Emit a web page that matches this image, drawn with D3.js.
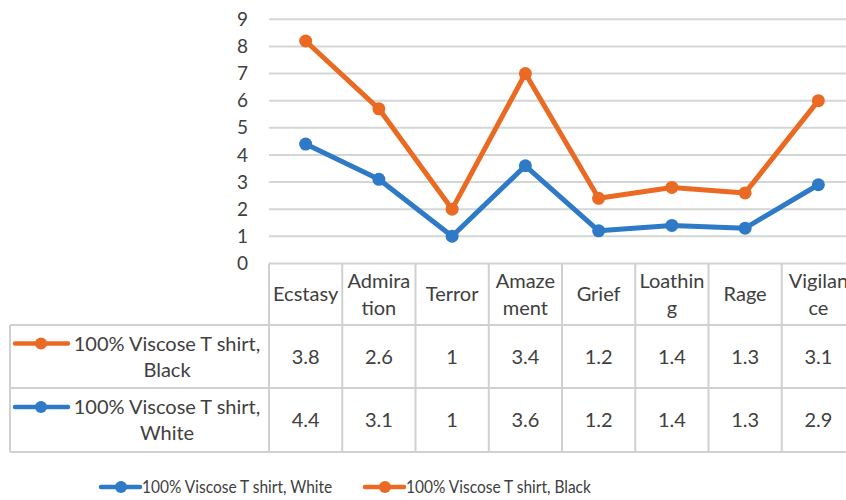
<!DOCTYPE html>
<html>
<head>
<meta charset="utf-8">
<script src="https://cdn.jsdelivr.net/npm/d3@7"></script>
<style>
  html, body { margin: 0; padding: 0; background: #fff; }
  svg { display: block; font-family: Lato, "Open Sans", sans-serif; }
</style>
</head>
<body>
<svg id="chart" width="846" height="500"></svg>
<script>
// Emotion categories and the two-line wrapped labels used in the data table
const categories = ["Ecstasy", "Admiration", "Terror", "Amazement", "Grief", "Loathing", "Rage", "Vigilance"];
const headerLines = [["Ecstasy"], ["Admira", "tion"], ["Terror"], ["Amaze", "ment"], ["Grief"], ["Loathin", "g"], ["Rage"], ["Vigilan", "ce"]];

// Scores per garment (stacked: black sits on top of white)
const whiteValues = [4.4, 3.1, 1, 3.6, 1.2, 1.4, 1.3, 2.9];
const blackValues = [3.8, 2.6, 1, 3.4, 1.2, 1.4, 1.3, 3.1];

const seriesNames = ["100% Viscose T shirt, White", "100% Viscose T shirt, Black"];
const yTicks = [0, 1, 2, 3, 4, 5, 6, 7, 8, 9];

const colors = { white: "#2f7ac6", black: "#ea6a24" };
const textColor = "#404040";
const gridColor = "#d4d6d6";

const svg = d3.select("#chart");

const plotLeft = 269, plotRight = 855;
const yTop = 19.3, yZero = 263.4;
const tableLeft = 10;
const row1Bottom = 325, row2Bottom = 388, row3Bottom = 452;
const tableFont = 20;

const x = d3.scaleBand().domain(categories).range([plotLeft, plotRight]);
const y = d3.scaleLinear().domain([0, 9]).range([yZero, yTop]);

// Stack the two series
const rows = categories.map((c, i) => ({ cat: c, white: whiteValues[i], black: blackValues[i] }));
const stacked = d3.stack().keys(["white", "black"])(rows);

// Horizontal gridlines
svg.append("g").selectAll("line")
  .data(yTicks.filter(t => t > 0))
  .join("line")
  .attr("x1", plotLeft).attr("x2", plotRight)
  .attr("y1", d => y(d)).attr("y2", d => y(d))
  .attr("stroke", gridColor).attr("stroke-width", 2);

// Y axis labels
const yAxis = d3.axisLeft(y).tickValues(yTicks).tickSize(0).tickPadding(0).tickFormat(d3.format("d"));
const yg = svg.append("g").attr("transform", "translate(248,0)").call(yAxis);
yg.select(".domain").remove();
yg.selectAll("text").attr("fill", textColor).attr("font-size", 19).attr("font-family", "Lato, 'Open Sans', sans-serif");

// Data table grid
const tg = svg.append("g").attr("stroke", "#cfd1d1").attr("stroke-width", 2).attr("fill", "none");
tg.append("line").attr("x1", plotLeft).attr("x2", plotRight).attr("y1", yZero).attr("y2", yZero);
[row1Bottom, row2Bottom, row3Bottom].forEach(yy => {
  tg.append("line").attr("x1", tableLeft).attr("x2", plotRight).attr("y1", yy).attr("y2", yy);
});
tg.append("line").attr("x1", tableLeft).attr("x2", tableLeft).attr("y1", row1Bottom).attr("y2", row3Bottom);
categories.forEach(c => {
  tg.append("line").attr("x1", x(c)).attr("x2", x(c)).attr("y1", yZero).attr("y2", row3Bottom);
});

// Category headers
const headG = svg.append("g").attr("fill", textColor).attr("font-size", tableFont).attr("text-anchor", "middle");
categories.forEach((c, i) => {
  const lines = headerLines[i];
  const cx = x(c) + x.bandwidth() / 2;
  const mid = (yZero + row1Bottom) / 2;
  const lh = 27;
  lines.forEach((ln, j) => {
    headG.append("text")
      .attr("x", cx)
      .attr("y", mid + (j - (lines.length - 1) / 2) * lh)
      .attr("dy", "0.35em")
      .text(ln);
  });
});

// Table values and series key cells
const tableRows = [
  { key: "black", name: seriesNames[1], values: blackValues, top: row1Bottom, bottom: row2Bottom },
  { key: "white", name: seriesNames[0], values: whiteValues, top: row2Bottom, bottom: row3Bottom }
];
tableRows.forEach(r => {
  const mid = (r.top + r.bottom) / 2;
  svg.append("g").attr("fill", textColor).attr("font-size", tableFont).attr("text-anchor", "middle")
    .selectAll("text").data(r.values).join("text")
    .attr("x", (d, i) => x(categories[i]) + x.bandwidth() / 2)
    .attr("y", mid).attr("dy", "0.35em")
    .text(d => d);

  const parts = r.name.split(", ");
  const ky = mid - 13;
  svg.append("line").attr("x1", 15).attr("x2", 68).attr("y1", ky).attr("y2", ky)
    .attr("stroke", colors[r.key]).attr("stroke-width", 4.5).attr("stroke-linecap", "round");
  svg.append("circle").attr("cx", 41).attr("cy", ky).attr("r", 6).attr("fill", colors[r.key]);
  const kt = svg.append("g").attr("fill", textColor).attr("font-size", tableFont).attr("text-anchor", "middle");
  kt.append("text").attr("x", 167).attr("y", ky).attr("dy", "0.35em").text(parts[0] + ",");
  kt.append("text").attr("x", 167).attr("y", ky + 26).attr("dy", "0.35em").text(parts[1]);
});

// Stacked lines with markers
const line = d3.line()
  .x((d, i) => x(categories[i]) + x.bandwidth() / 2)
  .y(d => y(d[1]));

stacked.forEach(s => {
  const g = svg.append("g");
  g.append("path").datum(s)
    .attr("d", line)
    .attr("fill", "none")
    .attr("stroke", colors[s.key])
    .attr("stroke-width", 5)
    .attr("stroke-linejoin", "round");
  g.selectAll("circle").data(s).join("circle")
    .attr("cx", (d, i) => x(categories[i]) + x.bandwidth() / 2)
    .attr("cy", d => y(d[1]))
    .attr("r", 6.5)
    .attr("fill", colors[s.key]);
});

// Bottom legend (narrowed glyphs for a condensed look)
const legendItems = [
  { key: "white", name: seriesNames[0], x0: 101 },
  { key: "black", name: seriesNames[1], x0: 365 }
];
const ly = 487;
legendItems.forEach(it => {
  svg.append("line").attr("x1", it.x0).attr("x2", it.x0 + 39).attr("y1", ly).attr("y2", ly)
    .attr("stroke", colors[it.key]).attr("stroke-width", 4.5).attr("stroke-linecap", "round");
  svg.append("circle").attr("cx", it.x0 + 20).attr("cy", ly).attr("r", 6).attr("fill", colors[it.key]);
  const t = svg.append("text").attr("x", it.x0 + 41).attr("y", ly).attr("dy", "0.35em")
    .attr("fill", textColor).attr("font-size", 18).text(it.name);
  const natural = t.node().getComputedTextLength();
  t.attr("textLength", natural * 0.86).attr("lengthAdjust", "spacingAndGlyphs");
});
</script>
</body>
</html>
